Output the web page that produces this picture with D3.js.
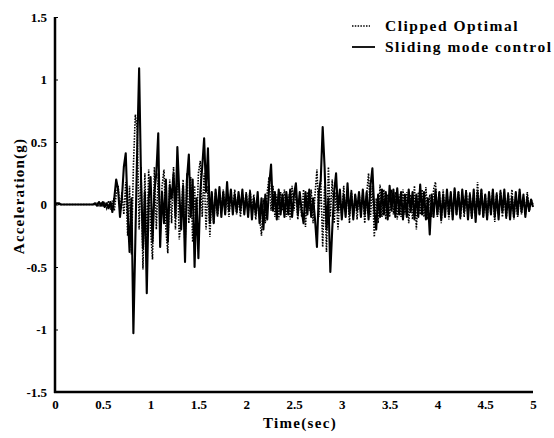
<!DOCTYPE html>
<html>
<head>
<meta charset="utf-8">
<script src="https://cdn.jsdelivr.net/npm/d3@7"></script>
<style>
  html, body { margin: 0; padding: 0; background: #fff; }
  svg { display: block; }
  text { font-family: "Liberation Serif", "Times New Roman", serif; font-weight: bold; fill: #000; }
</style>
</head>
<body>
<svg id="chart" width="554" height="438"></svg>
<script>
// Sampling interval of both acceleration records (seconds)
const timeStep = 0.02;

// Clipped optimal control response (g), one value per time step, 0 .. 5 s
const clippedOptimal = [
  0, 0, 0, 0, 0, 0, 0, 0, 0, 0,
  0, 0, 0, 0, 0, 0, 0, 0, 0, 0,
  0, 0.00, 0.01, -0.01, 0.02, -0.02, 0.01, -0.03, 0.03, -0.04,
  0.03, -0.05, 0.08, 0.15, -0.05, 0.10, -0.08, 0.18, -0.25, 0.15,
  -0.40, 0.30, 0.72, 0.60, -0.20, 0.30, -0.52, 0.25, -0.35, 0.28,
  -0.20, -0.44, 0.30, -0.20, 0.25, -0.25, 0.15, 0.28, -0.20, -0.39,
  0.20, -0.15, 0.30, -0.20, 0.25, -0.28, -0.10, 0.20, -0.35, 0.25,
  -0.15, 0.22, -0.30, 0.15, -0.25, 0.25, 0.35, -0.10, 0.25, -0.20,
  0.15, -0.26, 0.08, -0.15, 0.10, -0.10, 0.08, -0.05, 0.12, -0.06,
  0.05, -0.10, 0.10, -0.05, 0.12, -0.08, 0.06, -0.10, 0.08, -0.05,
  0.10, -0.08, 0.12, -0.05, 0.08, -0.12, 0.05, -0.10, -0.25, 0.05,
  -0.15, 0.10, 0.22, -0.05, 0.15, -0.10, 0.08, -0.12, 0.10, -0.05,
  0.12, -0.10, 0.08, -0.12, 0.15, -0.05, 0.10, -0.12, 0.08, -0.10,
  0.12, -0.18, 0.10, -0.05, 0.12, -0.15, 0.08, 0.28, -0.10, 0.20,
  -0.34, 0.15, -0.38, 0.30, -0.10, 0.20, -0.15, 0.10, -0.20, 0.08,
  -0.10, 0.15, -0.08, 0.10, -0.15, 0.12, -0.10, 0.08, -0.12, 0.10,
  -0.08, 0.10, -0.15, 0.08, 0.25, -0.10, 0.15, -0.26, 0.05, -0.15,
  0.16, -0.10, 0.12, -0.12, 0.08, -0.10, 0.12, -0.08, 0.10, -0.12,
  0.08, -0.10, 0.12, -0.08, 0.10, -0.15, 0.08, -0.12, 0.15, -0.20,
  0.10, -0.08, 0.12, -0.10, 0.14, -0.12, 0.08, -0.10, 0.12, 0.18,
  -0.10, 0.10, -0.15, 0.12, -0.08, 0.10, -0.12, 0.08, -0.10, 0.12,
  -0.08, 0.10, -0.12, 0.08, -0.10, 0.12, -0.08, 0.10, -0.12, 0.08,
  -0.10, 0.18, -0.08, 0.12, -0.10, 0.08, -0.12, 0.10, -0.08, 0.12,
  -0.14, 0.10, -0.08, 0.12, -0.10, 0.08, -0.12, 0.10, -0.08, 0.12,
  -0.12, 0.08, -0.10, 0.10, -0.08, 0.06, -0.08, 0.10, -0.06, 0.04,
  0.00
];

// Sliding mode control response (g), same time base
const slidingMode = [
  0, 0.01, 0.01, 0, 0, 0, 0, 0, 0, 0,
  0, 0, 0, 0, 0, 0, 0, 0, 0, 0,
  0, 0.01, -0.01, 0.02, -0.01, 0.02, -0.02, 0.01, -0.03, 0.02,
  -0.06, 0.05, 0.20, 0.12, -0.10, 0.05, 0.30, 0.41, -0.05, -0.38,
  0.05, -1.03, -0.30, 0.45, 1.09, 0.20, -0.35, 0.10, -0.71, 0.05,
  0.22, -0.30, 0.10, 0.25, 0.57, -0.34, 0.10, -0.15, 0.20, -0.30,
  0.15, 0.05, 0.25, -0.10, 0.46, 0.10, -0.20, 0.15, -0.46, 0.20,
  0.40, -0.10, 0.20, -0.50, 0.05, -0.43, 0.10, 0.30, 0.53, 0.10,
  0.45, -0.15, 0.10, -0.15, 0.12, -0.08, 0.14, -0.10, 0.10, -0.08,
  0.18, -0.05, 0.12, -0.08, 0.08, -0.06, 0.10, -0.05, 0.12, -0.08,
  0.08, -0.10, 0.10, -0.12, 0.05, -0.08, 0.10, -0.15, 0.05, -0.20,
  0.08, -0.12, 0.15, 0.32, -0.05, 0.10, -0.12, 0.12, -0.08, 0.08,
  -0.10, 0.10, -0.08, 0.12, -0.10, 0.08, 0.17, -0.08, 0.10, -0.05,
  -0.15, 0.10, -0.08, 0.12, -0.10, 0.05, -0.12, -0.34, 0.10, 0.20,
  0.62, 0.30, -0.20, 0.05, -0.54, -0.20, 0.10, 0.25, -0.05, 0.12,
  -0.12, 0.08, -0.10, 0.17, -0.08, 0.10, -0.12, 0.08, -0.05, 0.10,
  -0.10, 0.12, -0.08, 0.10, -0.12, 0.15, 0.29, -0.05, -0.20, 0.08,
  -0.10, 0.12, -0.08, 0.10, -0.12, 0.15, -0.05, 0.12, -0.10, 0.13,
  -0.08, 0.10, -0.12, 0.08, -0.10, 0.12, -0.06, 0.10, -0.12, 0.08,
  -0.10, 0.16, -0.08, 0.10, -0.12, 0.05, -0.24, 0.08, -0.10, 0.12,
  -0.08, 0.10, -0.12, 0.08, -0.10, 0.12, -0.08, 0.10, -0.12, 0.13,
  -0.08, 0.10, -0.10, 0.12, -0.06, 0.10, -0.12, 0.08, -0.10, 0.12,
  -0.14, 0.10, -0.08, 0.12, -0.10, 0.08, -0.12, 0.10, -0.08, 0.12,
  -0.10, 0.08, -0.12, 0.10, -0.06, 0.12, -0.10, 0.08, -0.12, 0.06,
  -0.10, 0.10, -0.08, 0.12, -0.06, 0.08, -0.10, 0.06, -0.05, 0.04,
  -0.02
];

// Axis tick labels
const timeTicks = [0, 0.5, 1, 1.5, 2, 2.5, 3, 3.5, 4, 4.5, 5];
const accelTicks = [-1.5, -1, -0.5, 0, 0.5, 1, 1.5];

// Legend entries
const legendLabels = ["Clipped Optimal", "Sliding mode control"];

const svg = d3.select("#chart");
const plot = { left: 55, right: 533, top: 17, bottom: 392 };

const x = d3.scaleLinear().domain([0, 5]).range([plot.left, plot.right]);
const y = d3.scaleLinear().domain([-1.5, 1.5]).range([plot.bottom, plot.top]);

// plain hyphen for negative numbers
const plainNum = d => String(d);

const line = d3.line()
  .x((d, i) => x(i * timeStep))
  .y(d => y(d));

// Response traces
svg.append("path")
  .datum(clippedOptimal)
  .attr("d", line)
  .attr("fill", "none")
  .attr("stroke", "#000")
  .attr("stroke-width", 1.6)
  .attr("stroke-dasharray", "1.5,1.3");

svg.append("path")
  .datum(slidingMode)
  .attr("d", line)
  .attr("fill", "none")
  .attr("stroke", "#000")
  .attr("stroke-width", 2.1)
  .attr("stroke-linejoin", "round");

// Y axis
const yAxis = svg.append("g")
  .attr("transform", `translate(${plot.left},0)`)
  .call(d3.axisLeft(y).tickValues(accelTicks).tickSize(-3).tickPadding(8).tickFormat(plainNum));
yAxis.select(".domain").remove();
yAxis.selectAll(".tick line").attr("stroke", "#000").attr("stroke-width", 1);
yAxis.selectAll(".tick text").style("font-size", "13px").attr("fill", "#000");

// X axis
const xAxis = svg.append("g")
  .attr("transform", `translate(0,${plot.bottom})`)
  .call(d3.axisBottom(x).tickValues(timeTicks).tickSize(0).tickPadding(8).tickFormat(plainNum));
xAxis.select(".domain").remove();
xAxis.selectAll(".tick text").style("font-size", "13px").attr("fill", "#000");

// Axis frame lines
svg.append("line")
  .attr("x1", plot.left).attr("x2", plot.left)
  .attr("y1", plot.top).attr("y2", plot.bottom + 1)
  .attr("stroke", "#000").attr("stroke-width", 2.5);
svg.append("line")
  .attr("x1", plot.left - 1).attr("x2", plot.right)
  .attr("y1", plot.bottom).attr("y2", plot.bottom)
  .attr("stroke", "#000").attr("stroke-width", 2.5);

// Axis titles
svg.append("text")
  .attr("x", (plot.left + plot.right) / 2 + 6)
  .attr("y", 428)
  .attr("text-anchor", "middle")
  .style("font-size", "15px")
  .style("letter-spacing", "1.3px")
  .text("Time(sec)");

svg.append("text")
  .attr("transform", "translate(24,196) rotate(-90)")
  .attr("text-anchor", "middle")
  .style("font-size", "15px")
  .style("letter-spacing", "1.2px")
  .text("Acceleration(g)");

// Legend
const legend = svg.append("g");
const legendRows = [
  { label: legendLabels[0], dash: "1.5,1.3", width: 1.4, x2: 370, y: 26 },
  { label: legendLabels[1], dash: null, width: 1.8, x2: 375, y: 47 }
];
legendRows.forEach(r => {
  legend.append("line")
    .attr("x1", 352).attr("x2", r.x2)
    .attr("y1", r.y).attr("y2", r.y)
    .attr("stroke", "#000")
    .attr("stroke-width", r.width)
    .attr("stroke-dasharray", r.dash);
  legend.append("text")
    .attr("x", 385)
    .attr("y", r.y + 5)
    .style("font-size", "15.5px")
    .style("letter-spacing", "1.5px")
    .text(r.label);
});
</script>
</body>
</html>
